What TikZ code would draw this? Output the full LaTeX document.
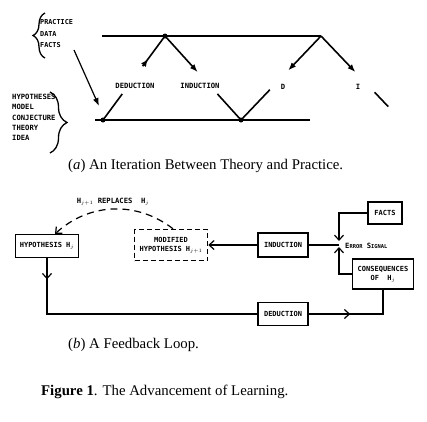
\documentclass[tikz,border=0pt]{standalone}
\usepackage{fontspec}
\setmainfont{Liberation Serif}
\newfontfamily\plotfont{DejaVu Sans Mono Bold}
\usetikzlibrary{positioning,arrows.meta,calc,decorations.pathreplacing}

\tikzset{
  lbl/.style={font=\plotfont\fontsize{7.2}{8}\selectfont, inner sep=0pt},
  lst/.style={align=left, anchor=north west, inner sep=0pt},
  leg/.style={line width=1.6pt},
  legarr/.style={leg, -{Latex[length=8pt,width=6pt]}},
  brc/.style={line width=1.3pt, decorate},
  blk/.style={draw, line width=1.2pt, minimum height=23pt, inner sep=2pt,
    font=\plotfont\fontsize{7}{9}\selectfont, align=center},
  flow/.style={line width=1.2pt},
  flowarr/.style={flow, -{Straight Barb[length=5pt,width=9pt]}},
  dsh/.style={dash pattern=on 5pt off 3pt},
  captxt/.style={font=\fontsize{14.8}{16}\selectfont, inner sep=0pt, anchor=west}
}

\begin{document}
\begin{tikzpicture}[x=1pt,y=1pt]
  \useasboundingbox (0,0) rectangle (427,-421);

  % (a) theory / practice zig-zag
  \coordinate (v1) at (103,-120);
  \coordinate (p1) at (165,-36);
  \coordinate (v2) at (241,-120);
  \coordinate (p2) at (321,-36);
  \coordinate (v3) at (401,-120);
  \coordinate (t0) at (102,-36);
  \coordinate (b0) at (95,-120);
  \coordinate (b1) at (310,-120);
  \draw[leg] (t0) -- (p2);
  \draw[leg, line width=2pt] (b0) -- (b1);

  \node[lst, font=\plotfont\fontsize{6.8}{11.8}\selectfont] (prac) at (40,-19) {PRACTICE\\DATA\\FACTS};
  \node[lst, font=\plotfont\fontsize{7.2}{10.3}\selectfont] (hypl) at (12,-94) {HYPOTHESES\\MODEL\\CONJECTURE\\THEORY\\IDEA};
  \draw[brc, decoration={brace, amplitude=12pt}] (45,-58) -- (45,-13);
  \draw[brc, decoration={brace, amplitude=17pt}] (50,-92) -- (50,-153);

  \coordinate (s1) at (74,-50);
  \coordinate (s2) at (99,-106);
  \draw[legarr, line width=1.2pt] (s1) -- (s2);

  \node[lbl] (ded) at (135,-86) {DEDUCTION};
  \node[lbl] (ind) at (200,-86) {INDUCTION};
  \node[lbl] (dd) at (283,-87) {D};
  \node[lbl] (ii) at (358,-87) {I};

  \draw[leg] (v1) -- ($(v1)!0.31!(p1)$);
  \draw[legarr] ($(v1)!0.64!(p1)$) -- ($(v1)!0.73!(p1)$);
  \draw[leg] ($(v1)!0.70!(p1)$) -- (p1);
  \draw[legarr] (p1) -- ($(p1)!0.43!(v2)$);
  \draw[leg] ($(p1)!0.69!(v2)$) -- (v2);
  \draw[leg] (v2) -- ($(v2)!0.36!(p2)$);
  \draw[legarr] (p2) -- ($(p2)!0.41!(v2)$);
  \draw[legarr] (p2) -- ($(p2)!0.43!(v3)$);
  \draw[leg] ($(p2)!0.67!(v3)$) -- ($(p2)!0.84!(v3)$);
  \fill (v1) circle (2.5pt) (p1) circle (2.5pt) (v2) circle (2.5pt);

  \node[captxt] (capa) at (68,-166) {(\textit{a}) An Iteration Between Theory and Practice.};

  % (b) feedback loop
  \node[blk, minimum width=63pt] (hyp) at (47,-246) {HYPOTHESIS H$_j$};
  \node[blk, dsh, line width=1.5pt, minimum width=73pt, minimum height=31pt] (mod) at (171,-245) {MODIFIED\\HYPOTHESIS H$_{j+1}$};
  \node[blk, minimum width=50pt, minimum height=24pt] (ind2) at (283,-245) {INDUCTION};
  \node[blk, minimum width=34pt, minimum height=22pt] (facts) at (385,-213) {FACTS};
  \node[blk, minimum width=61pt, minimum height=30pt] (cons) at (383,-274) {CONSEQUENCES\\OF\ \ H$_j$};
  \node[blk, minimum width=50pt] (ded2) at (283,-314) {DEDUCTION};
  \coordinate (err) at (339,-245);
  \node[lbl, anchor=west] (errlbl) at (345,-246) {E{\fontsize{5.4}{6}\selectfont RROR} S{\fontsize{5.4}{6}\selectfont IGNAL}};

  \draw[flowarr, shorten >=4pt] (facts.west) -| (err);
  \draw[flowarr, shorten >=2pt] (cons.west) -| (err);
  \draw[flow] (err) -- (ind2.east);
  \draw[flowarr] (ind2.west) -- (mod.east);

  \coordinate (c1) at (hyp.south |- ded2.west);
  \draw[flowarr] (hyp.south) -- ($(hyp.south)!0.38!(c1)$);
  \draw[flow] (hyp.south) -- (c1) -- (ded2.west);
  \coordinate (c2) at (cons.south |- ded2.east);
  \draw[flowarr] (ded2.east) -- ($(ded2.east)!0.56!(c2)$);
  \draw[flow] (ded2.east) -- (c2) -- (cons.south);

  \draw[flowarr, dash pattern=on 7pt off 5pt] ([xshift=2pt]mod.north) to[bend right=40] node[lbl, above=3pt] (repl) {H$_{j+1}$ REPLACES\ \ H$_j$} ([xshift=8pt]hyp.north);

  \node[captxt] (capb) at (68,-345) {(\textit{b}) A Feedback Loop.};
  \node[captxt] (capfig) at (41,-392) {\textbf{Figure 1}. The Advancement of Learning.};
\end{tikzpicture}
\end{document}
